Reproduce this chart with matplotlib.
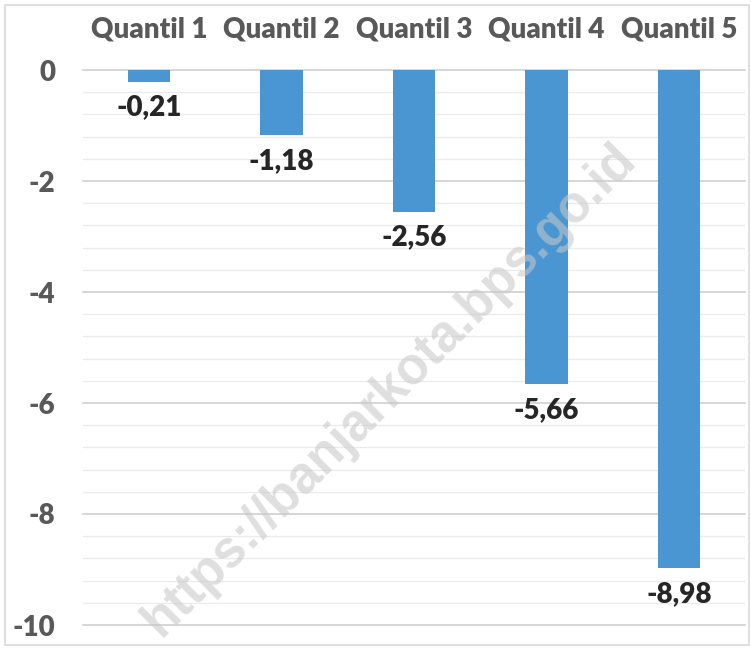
import matplotlib
matplotlib.use("Agg")
import matplotlib.pyplot as plt
from matplotlib.patches import Rectangle
import numpy as np

categories = ["Quantil 1", "Quantil 2", "Quantil 3", "Quantil 4", "Quantil 5"]
values = [-0.21, -1.18, -2.56, -5.66, -8.98]
value_labels = ["-0,21", "-1,18", "-2,56", "-5,66", "-8,98"]
yticks = [0, -2, -4, -6, -8, -10]
watermark = "https://banjarkota.bps.go.id"

FONT = "Lato"
fig = plt.figure(figsize=(7.51, 6.48), dpi=100)
fig.patches.append(Rectangle((0.007, 0.005), 0.99, 0.988, transform=fig.transFigure,
                             fill=False, edgecolor="#d9d9d9", linewidth=1.2))
ax = fig.add_axes([83/751, 1-625/648, (745-83)/751, (625-70)/648])
x = np.arange(len(categories))
ax.bar(x, values, width=0.32, color="#4a96d2", zorder=3)
ax.set_xlim(-0.5, len(categories)-0.5)
ax.set_ylim(-10, 0)
ax.set_yticks(yticks)
ax.set_yticklabels([str(t) for t in yticks], fontfamily=FONT, fontweight="heavy",
                   fontsize=20, color="#595959")
ax.set_yticks(np.arange(-10, 0.01, 0.4), minor=True)
ax.tick_params(axis="y", which="both", length=0, pad=20)
ax.xaxis.tick_top()
ax.set_xticks(x)
ax.set_xticklabels(categories, fontfamily=FONT, fontweight="heavy", fontsize=20, color="#595959")
ax.tick_params(axis="x", length=0, pad=20)
ax.grid(axis="y", which="major", color="#d0d0d0", linewidth=1.2, zorder=0, clip_on=False)
ax.grid(axis="y", which="minor", color="#ebebeb", linewidth=1.0, zorder=0)
for s in ax.spines.values():
    s.set_visible(False)
for xi, v, lab in zip(x, values, value_labels):
    ax.annotate(lab, (xi, v), xytext=(0, -9), textcoords="offset points",
                ha="center", va="top", fontfamily=FONT, fontweight="heavy",
                fontsize=20, color="#262626", zorder=4)
fig.text(390/751, 1-390/648, watermark, rotation=45, ha="center", va="center",
         fontfamily="Liberation Sans", fontweight="bold", fontsize=37,
         color="#c8c8c8", alpha=0.58, zorder=10)
fig.savefig("out.png", dpi=100)
